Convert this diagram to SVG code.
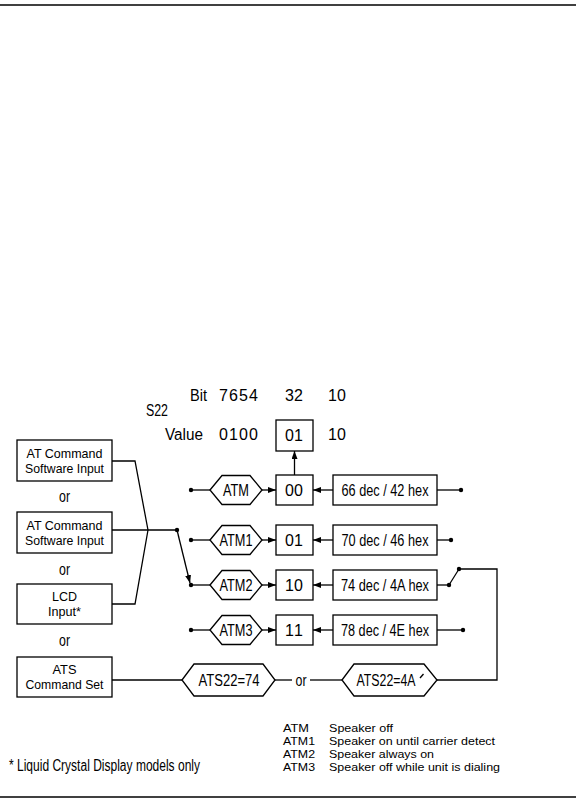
<svg xmlns="http://www.w3.org/2000/svg" width="576" height="804" viewBox="0 0 576 804">
<style>
.t{font-family:"Liberation Sans Narrow","Liberation Sans",Arial,sans-serif;font-size:16px;fill:#000}
.c{text-anchor:middle}
.bx{font-size:13.4px}
.lg{font-size:11.5px}
.b{fill:#fff;stroke:#000;stroke-width:1.3}
.w{fill:none;stroke:#000;stroke-width:1.3}
.d{fill:#000}
</style>
<defs>
<marker id="ah" markerUnits="userSpaceOnUse" markerWidth="8" markerHeight="6" refX="8" refY="3" orient="auto">
<path d="M0,0 L8,3 L0,6 z" fill="#000"/>
</marker>
</defs>
<rect width="576" height="804" fill="#fff"/>
<line x1="0" y1="5" x2="576" y2="5" stroke="#000" stroke-width="1.5"/>
<line x1="0" y1="797" x2="576" y2="797" stroke="#000" stroke-width="1.5"/>

<g id="header">
<text class="t" x="190" y="401" textLength="17" lengthAdjust="spacingAndGlyphs">Bit</text>
<text class="t" x="219" y="401" textLength="39" lengthAdjust="spacing">7654</text>
<text class="t" x="285" y="401" textLength="18" lengthAdjust="spacing">32</text>
<text class="t" x="328" y="401" textLength="18" lengthAdjust="spacing">10</text>
<text class="t" x="146" y="416" textLength="22" lengthAdjust="spacingAndGlyphs">S22</text>
<text class="t" x="165" y="440" textLength="38" lengthAdjust="spacingAndGlyphs">Value</text>
<text class="t" x="219" y="440" textLength="39" lengthAdjust="spacing">0100</text>
<text class="t" x="328" y="440" textLength="18" lengthAdjust="spacing">10</text>
</g>
<g id="s22box">
<rect class="b" x="276" y="420" width="37" height="31"/>
<text class="t" x="285" y="441" textLength="18" lengthAdjust="spacing">01</text>
</g>

<g id="in1">
<rect class="b" x="17" y="440" width="95" height="41"/>
<text class="t c bx" x="64.5" y="458" textLength="76" lengthAdjust="spacingAndGlyphs">AT Command</text>
<text class="t c bx" x="64.5" y="473" textLength="79" lengthAdjust="spacingAndGlyphs">Software Input</text>
</g>
<text class="t c" x="64.5" y="502" textLength="11" lengthAdjust="spacingAndGlyphs">or</text>
<g id="in2">
<rect class="b" x="17" y="512" width="95" height="41"/>
<text class="t c bx" x="64.5" y="530" textLength="76" lengthAdjust="spacingAndGlyphs">AT Command</text>
<text class="t c bx" x="64.5" y="545" textLength="79" lengthAdjust="spacingAndGlyphs">Software Input</text>
</g>
<text class="t c" x="64.5" y="575" textLength="11" lengthAdjust="spacingAndGlyphs">or</text>
<g id="in3">
<rect class="b" x="17" y="584" width="95" height="40"/>
<text class="t c bx" x="64.5" y="601" textLength="25" lengthAdjust="spacingAndGlyphs">LCD</text>
<text class="t c bx" x="64.5" y="616" textLength="33" lengthAdjust="spacingAndGlyphs">Input*</text>
</g>
<text class="t c" x="64.5" y="646" textLength="11" lengthAdjust="spacingAndGlyphs">or</text>
<g id="in4">
<rect class="b" x="17" y="657" width="95" height="40"/>
<text class="t c bx" x="64.5" y="674" textLength="24" lengthAdjust="spacingAndGlyphs">ATS</text>
<text class="t c bx" x="64.5" y="689" textLength="78" lengthAdjust="spacingAndGlyphs">Command Set</text>
</g>

<g id="connectors">
<polyline class="w" points="112,461 135,461 148,530"/>
<polyline class="w" points="112,604 135,604 148,530"/>
<line class="w" x1="112" y1="530" x2="177" y2="530"/>
<line class="w" x1="177" y1="530" x2="190" y2="583" marker-end="url(#ah)"/>
<circle class="d" cx="177" cy="530" r="2.2"/>
<line class="w" x1="294.5" y1="475" x2="294.5" y2="451" marker-end="url(#ah)"/>
<line class="w" x1="191" y1="490" x2="210" y2="490"/>
<line class="w" x1="262" y1="490" x2="276" y2="490" marker-end="url(#ah)"/>
<line class="w" x1="333" y1="490" x2="313" y2="490" marker-end="url(#ah)"/>
<line class="w" x1="437" y1="490" x2="461" y2="490"/>
<circle class="d" cx="191" cy="490" r="2.2"/>
<circle class="d" cx="461" cy="490" r="2.2"/>

<line class="w" x1="191" y1="540" x2="210" y2="540"/>
<line class="w" x1="262" y1="540" x2="276" y2="540" marker-end="url(#ah)"/>
<line class="w" x1="333" y1="540" x2="313" y2="540" marker-end="url(#ah)"/>
<line class="w" x1="437" y1="540" x2="451" y2="540"/>
<circle class="d" cx="191" cy="540" r="2.2"/>
<circle class="d" cx="451" cy="540" r="2.2"/>

<line class="w" x1="191" y1="585" x2="210" y2="585"/>
<line class="w" x1="262" y1="585" x2="276" y2="585" marker-end="url(#ah)"/>
<line class="w" x1="333" y1="585" x2="313" y2="585" marker-end="url(#ah)"/>
<line class="w" x1="437" y1="585" x2="449" y2="585"/>
<line class="w" x1="449" y1="585" x2="459" y2="569"/>
<circle class="d" cx="191" cy="585" r="2.2"/>
<circle class="d" cx="449" cy="585" r="2.2"/>
<circle class="d" cx="459" cy="569" r="2.2"/>
<polyline class="w" points="459,569 497,569 497,680 437,680"/>

<line class="w" x1="191" y1="630" x2="210" y2="630"/>
<line class="w" x1="262" y1="630" x2="276" y2="630" marker-end="url(#ah)"/>
<line class="w" x1="333" y1="630" x2="313" y2="630" marker-end="url(#ah)"/>
<line class="w" x1="437" y1="630" x2="463" y2="630"/>
<circle class="d" cx="191" cy="630" r="2.2"/>
<circle class="d" cx="463" cy="630" r="2.2"/>

<line class="w" x1="112" y1="680" x2="182" y2="680"/>
<line class="w" x1="275" y1="680" x2="292" y2="680"/>
<line class="w" x1="310" y1="680" x2="342" y2="680"/>
</g>

<g id="atm">
<polygon class="b" points="210,490 222,475.5 250,475.5 262,490 250,504.5 222,504.5"/>
<text class="t c" x="236" y="495.5" textLength="26" lengthAdjust="spacingAndGlyphs">ATM</text>
</g>
<g id="atm1">
<polygon class="b" points="210,540 222,525.5 250,525.5 262,540 250,554.5 222,554.5"/>
<text class="t c" x="236" y="545.5" textLength="33" lengthAdjust="spacingAndGlyphs">ATM1</text>
</g>
<g id="atm2">
<polygon class="b" points="210,585 222,570.5 250,570.5 262,585 250,599.5 222,599.5"/>
<text class="t c" x="236" y="590.5" textLength="33" lengthAdjust="spacingAndGlyphs">ATM2</text>
</g>
<g id="atm3">
<polygon class="b" points="210,630 222,615.5 250,615.5 262,630 250,644.5 222,644.5"/>
<text class="t c" x="236" y="635.5" textLength="33" lengthAdjust="spacingAndGlyphs">ATM3</text>
</g>

<g id="v00">
<rect class="b" x="276" y="475" width="37" height="30"/>
<text class="t" x="285" y="496" textLength="18" lengthAdjust="spacing">00</text>
</g>
<g id="v01">
<rect class="b" x="276" y="525" width="37" height="30"/>
<text class="t" x="285" y="546" textLength="18" lengthAdjust="spacing">01</text>
</g>
<g id="v10">
<rect class="b" x="276" y="570" width="37" height="30"/>
<text class="t" x="285" y="591" textLength="18" lengthAdjust="spacing">10</text>
</g>
<g id="v11">
<rect class="b" x="276" y="615" width="37" height="30"/>
<text class="t" x="285" y="636" textLength="18" lengthAdjust="spacing">11</text>
</g>

<g id="h42">
<rect class="b" x="333" y="475" width="104" height="30"/>
<text class="t c" x="385" y="496" textLength="87" lengthAdjust="spacingAndGlyphs">66 dec / 42 hex</text>
</g>
<g id="h46">
<rect class="b" x="333" y="525" width="104" height="30"/>
<text class="t c" x="385" y="546" textLength="87" lengthAdjust="spacingAndGlyphs">70 dec / 46 hex</text>
</g>
<g id="h4a">
<rect class="b" x="333" y="570" width="104" height="30"/>
<text class="t c" x="385" y="591" textLength="88" lengthAdjust="spacingAndGlyphs">74 dec / 4A hex</text>
</g>
<g id="h4e">
<rect class="b" x="333" y="615" width="104" height="30"/>
<text class="t c" x="385" y="636" textLength="88" lengthAdjust="spacingAndGlyphs">78 dec / 4E hex</text>
</g>

<g id="ats74">
<polygon class="b" points="182,680 194,664 263,664 275,680 263,696 194,696"/>
<text class="t c" x="229" y="686" textLength="61" lengthAdjust="spacingAndGlyphs">ATS22=74</text>
</g>
<text class="t c" x="301" y="686" textLength="11" lengthAdjust="spacingAndGlyphs">or</text>
<g id="ats4a">
<polygon class="b" points="342,680 354,664 424,664 437,680 424,696 354,696"/>
<text class="t c" x="386" y="686" textLength="59" lengthAdjust="spacingAndGlyphs">ATS22=4A</text>
<line class="w" x1="420" y1="678" x2="423.5" y2="674" stroke-width="1"/>
</g>

<g id="legend">
<text class="t lg" x="283" y="732" textLength="26" lengthAdjust="spacingAndGlyphs">ATM</text>
<text class="t lg" x="329" y="732" textLength="64" lengthAdjust="spacingAndGlyphs">Speaker off</text>
<text class="t lg" x="283" y="745" textLength="32" lengthAdjust="spacingAndGlyphs">ATM1</text>
<text class="t lg" x="329" y="745" textLength="166" lengthAdjust="spacingAndGlyphs">Speaker on until carrier detect</text>
<text class="t lg" x="283" y="758" textLength="32" lengthAdjust="spacingAndGlyphs">ATM2</text>
<text class="t lg" x="329" y="758" textLength="105" lengthAdjust="spacingAndGlyphs">Speaker always on</text>
<text class="t lg" x="283" y="771" textLength="32" lengthAdjust="spacingAndGlyphs">ATM3</text>
<text class="t lg" x="329" y="771" textLength="171" lengthAdjust="spacingAndGlyphs">Speaker off while unit is dialing</text>
</g>
<g id="footnote">
<text class="t" x="9" y="771" font-size="12.5" textLength="191" lengthAdjust="spacingAndGlyphs">* Liquid Crystal Display models only</text>
</g>
</svg>
